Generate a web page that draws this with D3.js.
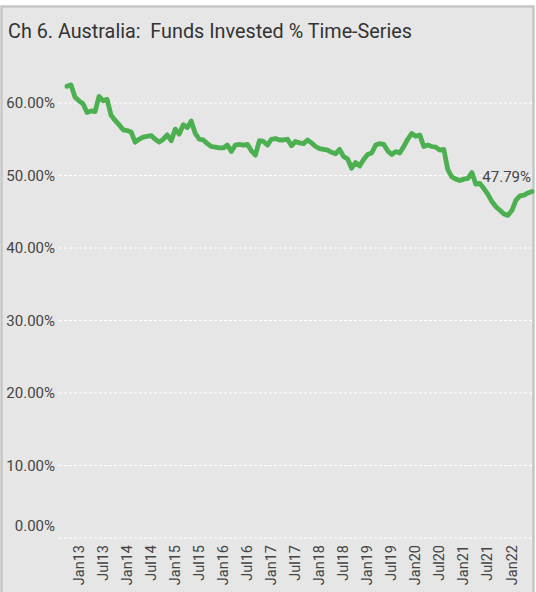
<!DOCTYPE html>
<html><head><meta charset="utf-8">
<script src="https://cdn.jsdelivr.net/npm/d3@7"></script>
<style>
html,body{margin:0;padding:0;background:#fff;}
svg{display:block;font-family:Roboto,"Noto Sans",sans-serif;}
</style></head>
<body><svg id="c" width="536" height="592"></svg>
<script>
const title = "Ch 6. Australia:  Funds Invested % Time-Series";
const startYear = 2012, startMonth = 10; // Nov 2012 (0-based month)
const values = [
62.3,62.5,60.8,60.3,59.9,58.7,58.9,58.8,60.9,60.3,60.5,58.3,57.6,57.0,56.3,56.2,56.0,54.6,55.0,55.3,
55.4,55.5,55.0,54.6,55.0,55.6,54.8,56.4,55.7,57.0,56.6,57.5,55.8,55.0,54.9,54.4,54.0,53.9,53.8,53.8,
54.2,53.3,54.2,54.3,54.2,54.3,53.4,52.8,54.8,54.7,54.2,55.0,55.1,54.9,54.9,55.0,54.1,54.7,54.5,54.4,
54.9,54.5,54.0,53.7,53.6,53.5,53.2,53.0,53.6,52.6,52.3,51.0,51.8,51.3,52.2,52.9,53.1,54.2,54.4,54.3,
53.4,52.9,53.3,53.1,54.0,55.0,55.8,55.4,55.6,54.0,54.2,54.0,53.9,53.5,53.6,50.8,49.8,49.5,49.3,49.5,
49.6,50.4,48.8,48.9,48.2,47.4,46.4,45.7,45.2,44.7,44.5,45.2,46.6,47.2,47.3,47.6,47.79];
const monthNames = ["Jan","Feb","Mar","Apr","May","Jun","Jul","Aug","Sep","Oct","Nov","Dec"];
const categories = values.map((v,i)=>{
  const m = (startMonth + i) % 12, y = startYear + Math.floor((startMonth + i)/12);
  return monthNames[m] + String(y).slice(2);
});
const xTickLabels = ["Jan13","Jul13","Jan14","Jul14","Jan15","Jul15","Jan16","Jul16","Jan17","Jul17",
  "Jan18","Jul18","Jan19","Jul19","Jan20","Jul20","Jan21","Jul21","Jan22"];
const yTicks = [0,10,20,30,40,50,60];
const lastLabel = "47.79%";

const svg = d3.select("#c");
// frame
svg.append("rect").attr("x",1.5).attr("y",6.5).attr("width",532).attr("height",590)
  .attr("fill","#e6e6e6").attr("stroke","#c6c6c6").attr("stroke-width",2.5);
svg.append("text").attr("x",8).attr("y",38).attr("font-size",19.8).attr("fill","#333")
  .attr("xml:space","preserve").style("white-space","pre").text(title);

const x = d3.scalePoint().domain(categories).range([67,532]);
const y = d3.scaleLinear().domain([0,60]).range([538,103]);

// grid
svg.append("g").selectAll("line").data(yTicks).join("line")
  .attr("x1",59).attr("x2",533).attr("y1",d=>y(d)).attr("y2",d=>y(d))
  .attr("stroke","#fff").attr("stroke-width",1).attr("stroke-dasharray","3,2");

// y axis labels
const yAxis = d3.axisLeft(y).tickValues(yTicks).tickSize(0).tickPadding(0)
  .tickFormat(d=>d3.format(".2f")(d)+"%");
const ga = svg.append("g").attr("transform","translate(55,0)").call(yAxis);
ga.select(".domain").remove();
ga.selectAll("text").attr("font-size",15).attr("fill","#444").attr("font-family","Roboto,sans-serif")
  .attr("y",d=>d===0?-12:0);

// x axis labels
const xAxis = d3.axisBottom(x).tickValues(xTickLabels).tickSize(0).tickPadding(0);
const gx = svg.append("g").attr("transform","translate(1,545)").call(xAxis);
gx.select(".domain").remove();
gx.selectAll("text").attr("font-size",14.5).attr("fill","#444").attr("font-family","Roboto,sans-serif")
  .attr("transform","rotate(-90)").attr("text-anchor","end").attr("x",0).attr("y",2).attr("dy","0.35em");

// line
const line = d3.line().x((d,i)=>x(categories[i])).y(d=>y(d));
svg.append("path").datum(values).attr("d",line).attr("fill","none")
  .attr("stroke","#4caf50").attr("stroke-width",4.8).attr("stroke-linejoin","round").attr("stroke-linecap","round");

// last label
const li = values.length-1;
svg.append("text").attr("x",x(categories[li])-1).attr("y",y(values[li])-10)
  .attr("text-anchor","end").attr("font-size",15).attr("fill","#444").text(lastLabel);
</script></body></html>
